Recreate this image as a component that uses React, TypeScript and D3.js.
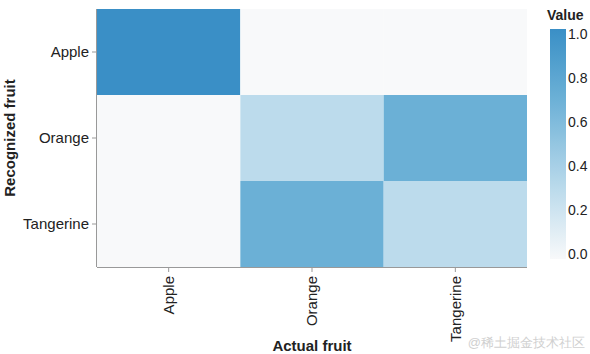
import React from "react";
import * as d3 from "d3";

const actual = ["Apple", "Orange", "Tangerine"];
const recognized = ["Apple", "Orange", "Tangerine"];
// values[recognizedIndex][actualIndex]
const values = [
  [1.0, 0.0, 0.0],
  [0.0, 0.3, 0.7],
  [0.0, 0.7, 0.3],
];
const legendTicks = [0, 0.2, 0.4, 0.6, 0.8, 1.0];
const colorStops = [0, 0.3, 0.7, 1];
const colorRange = ["#f8f9fa", "#bcdbec", "#6bb0d6", "#3a8fc6"];

const W = 590, H = 354;
const plot = { left: 97, right: 527, top: 9, bottom: 267 };
const font = "'Liberation Sans', Arial, Helvetica, sans-serif";

export default function App() {
  const x = d3.scaleBand().domain(actual).range([plot.left, plot.right]);
  const y = d3.scaleBand().domain(recognized).range([plot.top, plot.bottom]);
  const color = d3
    .scaleLinear<string>()
    .domain(colorStops)
    .range(colorRange)
    .interpolate(d3.interpolateRgb);
  const gTop = 29, gBottom = 259;
  const lg = d3.scaleLinear().domain([0, 1]).range([254, 34]);
  const stops = d3.range(0, 1.0001, 0.05);

  const cells: { a: string; r: string; v: number }[] = [];
  recognized.forEach((r, i) =>
    actual.forEach((a, j) => cells.push({ a, r, v: values[i][j] }))
  );

  return (
    <svg
      width={W}
      height={H}
      style={{ position: "absolute", left: 0, top: 0, background: "#fff" }}
      fontFamily={font}
    >
      <defs>
        <linearGradient id="lgGrad" x1="0" y1="1" x2="0" y2="0">
          {stops.map((s) => (
            <stop key={s} offset={s} stopColor={color(s)} />
          ))}
        </linearGradient>
      </defs>
      {cells.map((c) => (
        <rect
          key={c.a + c.r}
          x={x(c.a)}
          y={y(c.r)}
          width={x.bandwidth()}
          height={y.bandwidth()}
          fill={color(c.v)}
        />
      ))}
      {/* axes */}
      <line x1={plot.left - 0.5} x2={plot.left - 0.5} y1={plot.top} y2={plot.bottom} stroke="#999" />
      <line x1={plot.left} x2={plot.right} y1={plot.bottom + 0.5} y2={plot.bottom + 0.5} stroke="#999" />
      {recognized.map((r) => {
        const cy = (y(r) as number) + y.bandwidth() / 2;
        return (
          <g key={r}>
            <line x1={plot.left - 5} x2={plot.left} y1={cy} y2={cy} stroke="#999" />
            <text x={plot.left - 8} y={cy} dy="0.35em" textAnchor="end" fontSize={15} fill="#222">
              {r}
            </text>
          </g>
        );
      })}
      {actual.map((a) => {
        const cx = (x(a) as number) + x.bandwidth() / 2;
        return (
          <g key={a}>
            <line x1={cx} x2={cx} y1={plot.bottom} y2={plot.bottom + 5} stroke="#999" />
            <text
              transform={`translate(${cx},${plot.bottom + 9}) rotate(-90)`}
              dy="0.35em"
              textAnchor="end"
              fontSize={15}
              fill="#222"
            >
              {a}
            </text>
          </g>
        );
      })}
      <text
        transform={`translate(15,${(plot.top + plot.bottom) / 2}) rotate(-90)`}
        textAnchor="middle"
        fontSize={15}
        fontWeight="bold"
        fill="#222"
      >
        Recognized fruit
      </text>
      <text x={(plot.left + plot.right) / 2} y={351} textAnchor="middle" fontSize={15} fontWeight="bold" fill="#222">
        Actual fruit
      </text>
      {/* legend */}
      <text x={547} y={20} fontSize={14} fontWeight="bold" fill="#222">
        Value
      </text>
      <rect x={550} y={gTop} width={16} height={gBottom - gTop} fill="url(#lgGrad)" />
      {legendTicks.map((t) => (
        <text key={t} x={568} y={lg(t)} dy="0.35em" fontSize={14} fill="#222">
          {t.toFixed(1)}
        </text>
      ))}
      <text x={585} y={347} textAnchor="end" fontSize={13} fill="#d0d0d0">
        @稀土掘金技术社区
      </text>
    </svg>
  );
}
